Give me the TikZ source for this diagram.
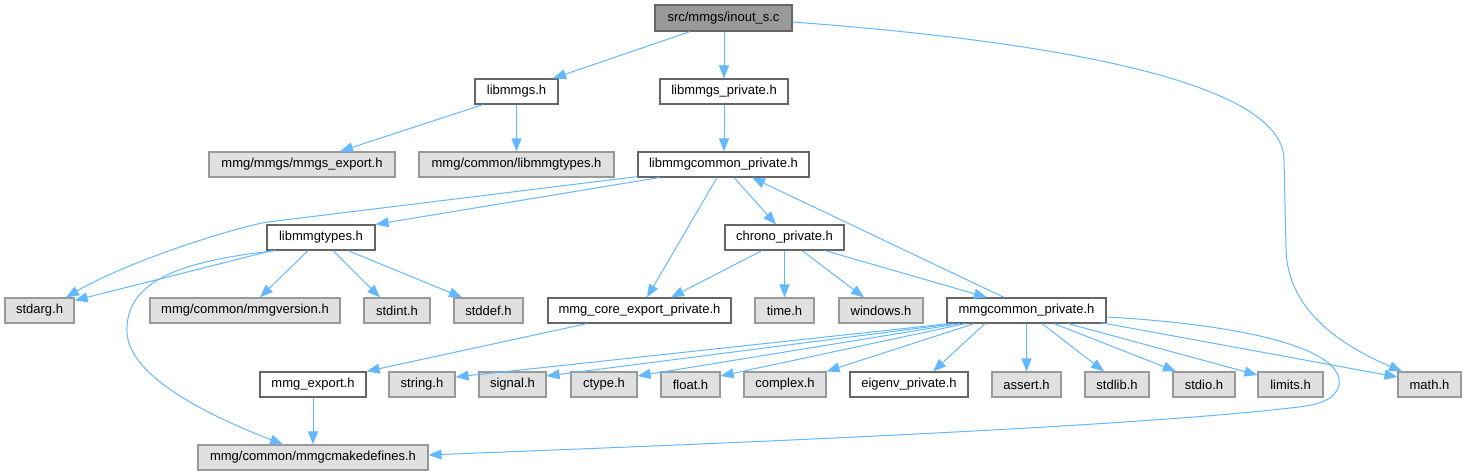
\documentclass[tikz,border=0pt]{standalone}
\usepackage{fontspec}
\setmainfont{Liberation Sans}
\usetikzlibrary{arrows.meta}
\definecolor{edgec}{HTML}{63B8FF}
\definecolor{greyfill}{HTML}{E0E0E0}
\definecolor{greyline}{HTML}{999999}
\definecolor{darkline}{HTML}{666666}
\definecolor{rootfill}{HTML}{999999}
\begin{document}
\begin{tikzpicture}[x=1pt,y=-1pt,
  box/.style={draw=darkline, fill=white, line width=1.2pt, minimum height=25pt, inner sep=0pt, font=\fontsize{13}{15}\selectfont, text=black},
  sysbox/.style={box, draw=greyline, fill=greyfill},
  rootbox/.style={box, fill=rootfill, minimum height=26pt},
  dep/.style={draw=edgec, line width=1pt, -{Triangle[length=13pt,width=10pt]}},
]
\useasboundingbox (0,0) rectangle (1466,476);
% row 0
\node[rootbox, minimum width=137pt] (root) at (723.5,18) {src/mmgs/inout\_s.c};
% row 1
\node[box, minimum width=83pt] (libmmgs) at (516.5,91.5) {libmmgs.h};
\node[box, minimum width=128pt] (libpriv) at (724,91.5) {libmmgs\_private.h};
% row 2
\node[sysbox, minimum width=186pt] (mmgsexp) at (302,164.5) {mmg/mmgs/mmgs\_export.h};
\node[sysbox, minimum width=195pt] (libtypesc) at (516.5,164.5) {mmg/common/libmmgtypes.h};
\node[box, minimum width=171pt] (libcommon) at (723.5,164.5) {libmmgcommon\_private.h};
% row 3
\node[box, minimum width=108pt] (libtypes) at (321,237.5) {libmmgtypes.h};
\node[box, minimum width=119pt] (chrono) at (784.5,237.5) {chrono\_private.h};
% row 4
\node[sysbox, minimum width=69pt] (stdarg) at (39.5,310.5) {stdarg.h};
\node[sysbox, minimum width=190pt] (mmgversion) at (245,310.5) {mmg/common/mmgversion.h};
\node[sysbox, minimum width=66pt] (stdint) at (397,310.5) {stdint.h};
\node[sysbox, minimum width=69pt] (stddef) at (488.5,310.5) {stddef.h};
\node[box, minimum width=183pt] (coreexp) at (639.5,310.5) {mmg\_core\_export\_private.h};
\node[sysbox, minimum width=59pt] (time) at (784.5,310.5) {time.h};
\node[sysbox, minimum width=84pt] (windows) at (881,310.5) {windows.h};
\node[box, minimum width=159pt] (mmgcommon) at (1026.5,310.5) {mmgcommon\_private.h};
% row 5
\node[box, minimum width=106pt] (mmgexport) at (313,384.5) {mmg\_export.h};
\node[sysbox, minimum width=66pt] (string) at (422,384.5) {string.h};
\node[sysbox, minimum width=67pt] (signal) at (512.5,384.5) {signal.h};
\node[sysbox, minimum width=66pt] (ctype) at (604,384.5) {ctype.h};
\node[sysbox, minimum width=59pt] (float) at (690.5,384.5) {float.h};
\node[sysbox, minimum width=82pt] (complex) at (785,384.5) {complex.h};
\node[box, minimum width=118pt] (eigenv) at (909,384.5) {eigenv\_private.h};
\node[sysbox, minimum width=69pt] (assert) at (1026.5,384.5) {assert.h};
\node[sysbox, minimum width=64pt] (stdlib) at (1117,384.5) {stdlib.h};
\node[sysbox, minimum width=62pt] (stdio) at (1204,384.5) {stdio.h};
\node[sysbox, minimum width=65pt] (limits) at (1290.5,384.5) {limits.h};
\node[sysbox, minimum width=63pt] (math) at (1429.5,384.5) {math.h};
% row 6
\node[sysbox, minimum width=230pt] (cmake) at (313,457.5) {mmg/common/mmgcmakedefines.h};

% edges
\draw[dep] ([xshift=-33.5pt]root.south) -- ([xshift=36.5pt]libmmgs.north);
\draw[dep] ([xshift=0.5pt]root.south) -- (libpriv.north);
\draw[dep] ([yshift=-4pt]root.east) .. controls (1100,45) and (1284,90) .. (1284,160)
   -- (1286,250) .. controls (1288,310) and (1340,345) .. ([xshift=-27.5pt]math.north);
\draw[dep] ([xshift=-33.5pt]libmmgs.south) -- ([xshift=38pt]mmgsexp.north);
\draw[dep] (libmmgs.south) -- (libtypesc.north);
\draw[dep] (libpriv.south) -- ([xshift=0.5pt]libcommon.north);
\draw[dep] ([xshift=-64.5pt]libcommon.south) -- (libtypes.north east);
\draw[dep] ([yshift=1pt]libcommon.south west) -- (268,222) .. controls (240,226) and (130,260) .. ([xshift=26.5pt]stdarg.north);
\draw[dep] ([xshift=-49pt]libtypes.south) -- ([yshift=10pt]stdarg.east);
\draw[dep] ([xshift=-45pt]libtypes.south) .. controls (170,262) and (125,285) .. (127,333)
   .. controls (130,380) and (220,420) .. ([xshift=-30pt]cmake.north);
\draw[dep] ([xshift=-13pt]libtypes.south) -- ([xshift=15pt]mmgversion.north);
\draw[dep] ([xshift=12pt]libtypes.south) -- ([xshift=-17pt]stdint.north);
\draw[dep] ([xshift=27pt]libtypes.south) -- ([xshift=-26.5pt]stddef.north);
\draw[dep] ([xshift=-6.5pt]libcommon.south) -- ([xshift=7.5pt]coreexp.north);
\draw[dep] ([xshift=10.5pt]libcommon.south) -- ([xshift=-8.5pt]chrono.north);
\draw[dep] ([xshift=-22.5pt]mmgcommon.north) -- ([xshift=28.5pt]libcommon.south);
\draw[dep] ([xshift=-22.5pt]chrono.south) -- ([xshift=31.5pt]coreexp.north);
\draw[dep] (chrono.south) -- (time.north);
\draw[dep] ([xshift=17.5pt]chrono.south) -- ([xshift=-17pt]windows.north);
\draw[dep] ([xshift=40.5pt]chrono.south) -- ([xshift=-39.5pt]mmgcommon.north);
\draw[dep] ([xshift=-52.5pt]coreexp.south) -- (mmgexport.north east);
\draw[dep] (mmgexport.south) -- (cmake.north);
\draw[dep] ([xshift=3pt]mmgcommon.south west) -- ([yshift=7.5pt]string.east);
\draw[dep] ([xshift=8pt]mmgcommon.south west) -- ([yshift=8.5pt]signal.east);
\draw[dep] ([xshift=13pt]mmgcommon.south west) -- ([yshift=8.5pt]ctype.east);
\draw[dep] ([xshift=19pt]mmgcommon.south west) -- ([yshift=8.5pt]float.east);
\draw[dep] ([xshift=28pt]mmgcommon.south west) -- (complex.north east);
\draw[dep] ([xshift=-41.5pt]mmgcommon.south) -- ([xshift=24pt]eigenv.north);
\draw[dep] (mmgcommon.south) -- (assert.north);
\draw[dep] ([xshift=15.5pt]mmgcommon.south) -- ([xshift=-13pt]stdlib.north);
\draw[dep] ([xshift=27.5pt]mmgcommon.south) -- ([xshift=-28pt]stdio.north);
\draw[dep] ([xshift=41.5pt]mmgcommon.south) -- ([yshift=9.5pt]limits.west);
\draw[dep] ([xshift=-6pt,yshift=1pt]mmgcommon.south east) -- ([yshift=7.5pt]math.west);
\draw[dep] ([yshift=-6.5pt]mmgcommon.east) .. controls (1250,325) and (1345,350) .. (1339,385)
   .. controls (1335,400) and (1320,405) .. (1290,408)
   .. controls (1100,430) and (600,448) .. ([yshift=2.5pt]cmake.east);
\end{tikzpicture}
\end{document}
